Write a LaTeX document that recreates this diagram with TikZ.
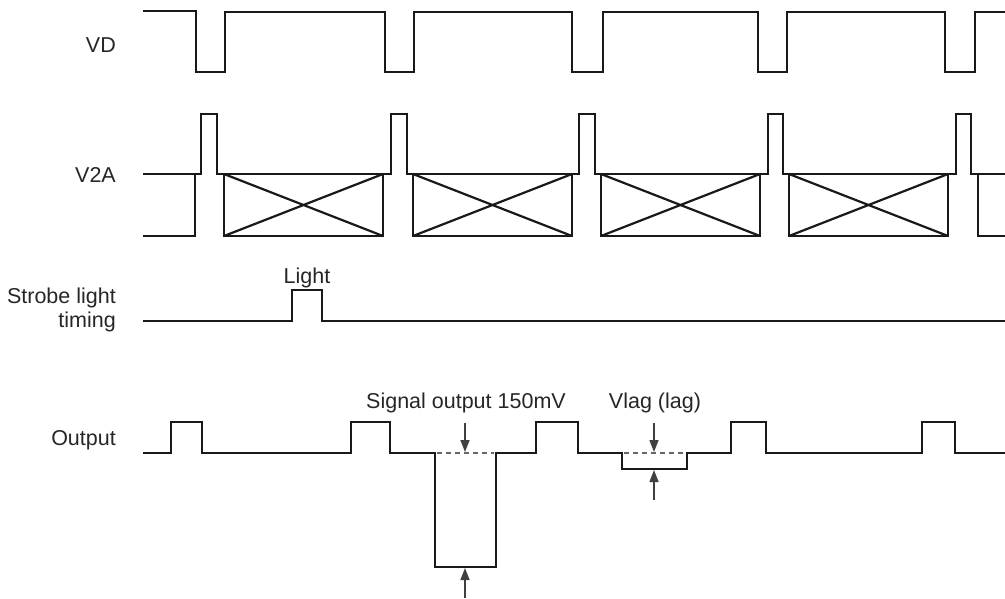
\documentclass[tikz,border=0pt]{standalone}
\usepackage{fontspec}
\setmainfont{Liberation Sans}
\usetikzlibrary{arrows.meta}
\begin{document}
\begin{tikzpicture}[x=1pt,y=-1pt,
  sig/.style={line width=2.5pt,line join=miter,draw=black!90},
  lbl/.style={font=\fontsize{21.5}{24}\selectfont,inner sep=0pt,text=black!85},
  dim/.style={line width=1.4pt,draw=black!75,-{Triangle[length=12pt,width=9pt]}},
  dsh/.style={line width=1.4pt,draw=black!60,dash pattern=on 5pt off 4pt}]
\useasboundingbox (0,0) rectangle (1005,598);
% labels
\node[lbl,anchor=east] (lvd) at (116,45) {VD};
\node[lbl,anchor=east] (lv2a) at (116,175) {V2A};
\node[lbl,anchor=east,align=right] (lstr) at (116,310) {Strobe light\\timing};
\node[lbl,anchor=east] (lout) at (116,440) {Output};
\node[lbl] (llight) at (307,278) {Light};
\node[lbl] (lsig) at (466,403) {Signal output 150mV};
\node[lbl] (llag) at (655,403) {Vlag (lag)};
% VD
\draw[sig] (143,11) -- (196,11) -- (196,72) -- (225,72) -- (225,12) -- (385,12) -- (385,72) -- (414,72) -- (414,12)
  -- (572,12) -- (572,72) -- (603,72) -- (603,12) -- (758,12) -- (758,72) -- (787,72) -- (787,12)
  -- (945,12) -- (945,72) -- (975,72) -- (975,12) -- (1005,12);
% V2A
\draw[sig] (143,174) -- (201,174) -- (201,114) -- (217,114) -- (217,174) -- (391,174) -- (391,114) -- (407,114) -- (407,174)
  -- (579,174) -- (579,114) -- (595,114) -- (595,174) -- (768,174) -- (768,114) -- (783,114) -- (783,174)
  -- (956,174) -- (956,114) -- (971,114) -- (971,174) -- (1005,174);
\draw[sig] (143,236) -- (195,236) -- (195,174);
\draw[sig] (1005,236) -- (978,236) -- (978,174);
\foreach \a/\b in {224/383,413/572,601/760,789/948}{
  \draw[sig] (\a,174) rectangle (\b,236);
  \draw[sig,line width=2.2pt] (\a,174) -- (\b,236) (\a,236) -- (\b,174);
}
% Strobe
\draw[sig] (143,321) -- (292,321) -- (292,290) -- (322,290) -- (322,321) -- (1005,321);
% Output
\draw[sig] (143,453) -- (171,453) -- (171,422) -- (202,422) -- (202,453) -- (351,453) -- (351,422) -- (390,422) -- (390,453)
  -- (435,453) -- (435,567) -- (496,567) -- (496,453) -- (536,453) -- (536,422) -- (578,422) -- (578,453)
  -- (622,453) -- (622,469) -- (687,469) -- (687,453) -- (731,453) -- (731,422) -- (766,422) -- (766,453)
  -- (922,453) -- (922,422) -- (955,422) -- (955,453) -- (1005,453);
\draw[dsh] (437,453) -- (494,453);
\draw[dsh] (624,453) -- (685,453);
\coordinate (a1s) at (465,423); \coordinate (a1e) at (465,452);
\coordinate (a2s) at (465,598); \coordinate (a2e) at (465,568);
\coordinate (a3s) at (654,423); \coordinate (a3e) at (654,452);
\coordinate (a4s) at (654,500); \coordinate (a4e) at (654,470);
\draw[dim] (a1s) -- (a1e);
\draw[dim] (a2s) -- (a2e);
\draw[dim] (a3s) -- (a3e);
\draw[dim] (a4s) -- (a4e);
\end{tikzpicture}
\end{document}
